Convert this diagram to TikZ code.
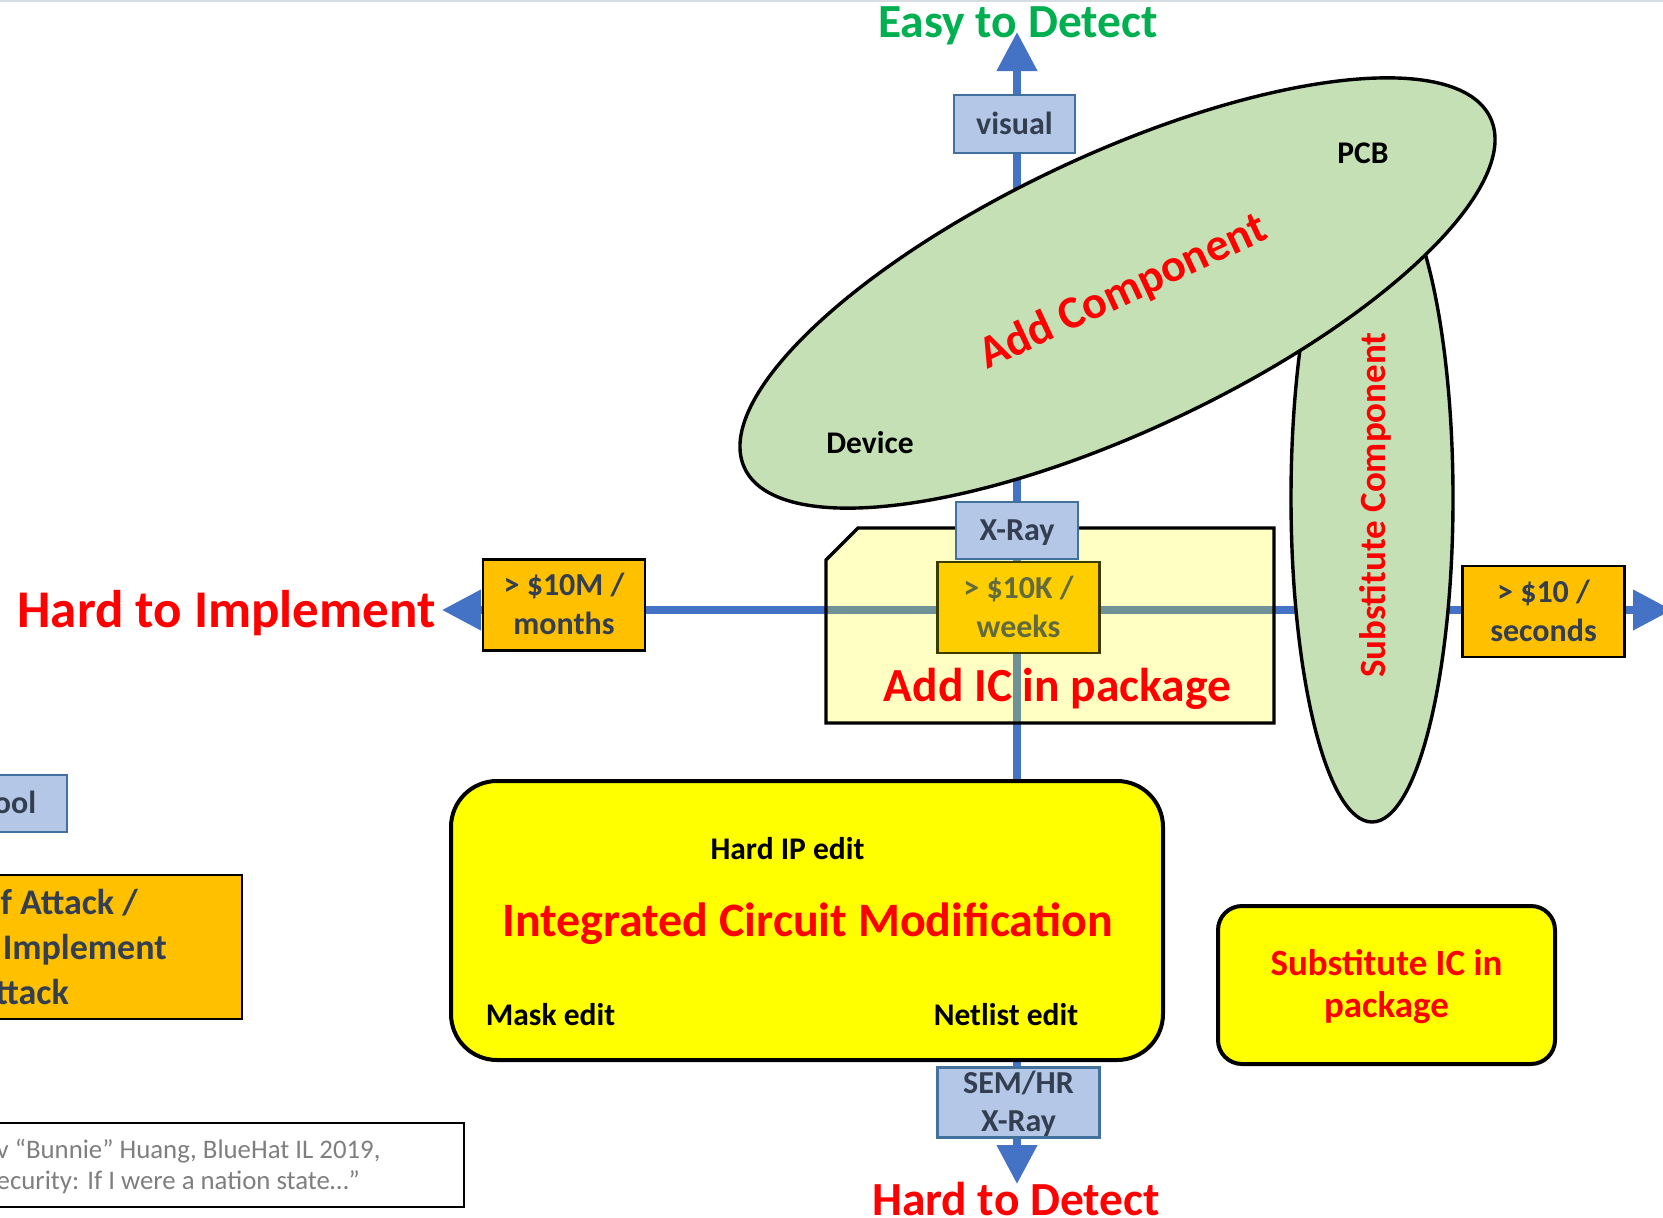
\documentclass[tikz,border=0pt]{standalone}
\usepackage{fontspec}
\setmainfont{Carlito}
\usetikzlibrary{arrows.meta,shapes.geometric}
\definecolor{axisblue}{HTML}{4472C4}
\definecolor{boxblue}{HTML}{B4C7E7}
\definecolor{boxblueline}{HTML}{41719C}
\definecolor{costorange}{HTML}{FFC000}
\definecolor{slate}{HTML}{333F50}
\definecolor{ellgreen}{HTML}{C5E0B4}
\definecolor{easygreen}{HTML}{00B050}
\definecolor{citegray}{HTML}{7F7F7F}
\definecolor{toplinecol}{HTML}{D6DCE4}
\definecolor{icyellow}{HTML}{FFFF00}
\newcommand{\twoline}[2]{\vbox{\hbox to 0pt{\hss #1\hss}\hbox to 0pt{\hss #2\hss}}}
\tikzset{
  axisarrow/.style={draw=axisblue, line width=7.5pt, -{Triangle[length=39pt,width=39pt]}},
  bluebox/.style={rectangle, draw=boxblueline, line width=2.2pt, fill=boxblue, text=slate,
    font=\fontsize{32}{38}\selectfont\bfseries, inner sep=0pt,
    minimum width=122pt, minimum height=57pt, text height=20.2pt, text depth=0pt},
  costbox/.style={rectangle, draw=black, line width=2.4pt, fill=costorange, text=slate,
    font=\fontsize{32}{39}\selectfont\bfseries, inner sep=0pt,
    minimum width=162pt, minimum height=91pt, text height=59.2pt, text depth=0pt},
  redtitle/.style={text=red, inner sep=0pt, anchor=base},
  lab/.style={text=black, font=\fontsize{31.5}{38}\selectfont\bfseries, inner sep=0pt, anchor=base},
  greenell/.style={ellipse, draw=black, line width=3.4pt, fill=ellgreen, inner sep=0pt},
  yellowbox/.style={rectangle, draw=black, line width=4pt, fill=icyellow, inner sep=0pt},
  slatetext/.style={text=slate, font=\fontsize{36}{45}\selectfont\bfseries, inner sep=0pt},
  citetext/.style={text=citegray, font=\fontsize{26.8}{32}\selectfont, inner sep=0pt, anchor=base west},
}
\begin{document}
\begin{tikzpicture}[x=1pt,y=-1pt]
\path[use as bounding box] (0,0) rectangle (1663,1218);
\clip (0,0) rectangle (1663,1218);
\fill[white] (0,0) rectangle (1663,1218);
\draw[draw=toplinecol, line width=2pt] (0,1) -- (1663,1);

% axes
\coordinate (ctr) at (1017,610);
\coordinate (upEnd) at (1017,32);
\coordinate (downEnd) at (1017,1184);
\coordinate (leftEnd) at (442,610);
\coordinate (rightEnd) at (1672,610);
\draw[axisarrow] (ctr) -- (upEnd);
\draw[axisarrow] (ctr) -- (downEnd);
\draw[axisarrow] (ctr) -- (leftEnd);
\draw[axisarrow] (ctr) -- (rightEnd);

% axis titles
\node[text=easygreen, font=\fontsize{47.5}{56}\selectfont\bfseries, inner sep=0pt, anchor=base] (easy) at (1018,37) {Easy to Detect};
\node[redtitle, font=\fontsize{47.5}{56}\selectfont\bfseries] (hardDetect) at (1016,1215) {Hard to Detect};
\node[redtitle, font=\fontsize{53}{62}\selectfont\bfseries] (hardImpl) at (226.5,627) {Hard to Implement};

% substitute component ellipse
\node[greenell, minimum width=162pt, minimum height=648pt] (subcomp) at (1372,498) {};
\node[redtitle, rotate=90, font=\fontsize{37}{44}\selectfont\bfseries] (subcomptxt) at (1385,505) {Substitute Component};

% add component ellipse
\node[greenell, rotate=25.16, minimum width=824pt, minimum height=276pt] (addcomp) at (1117.5,293) {};
\node[redtitle, rotate=25, font=\fontsize{46}{54}\selectfont\bfseries] (addcomptxt) at (1128.5,304) {Add Component};
\node[lab] (pcb) at (1363,163) {PCB};
\node[lab] (device) at (870,453) {Device};

% add IC in package (translucent)
\node[costbox] (c10k) at (1018.5,607.5) {\twoline{> \$10K /}{weeks}};
\path[fill=icyellow, fill opacity=0.23, draw=black, line width=3.4pt]
  (826,560) -- (858,528) -- (1274,528) -- (1274,723) -- (826,723) -- cycle;
\node[redtitle, font=\fontsize{47.5}{56}\selectfont\bfseries] (addictxt) at (1057.5,701) {Add IC in package};
\node[bluebox] (xray) at (1017,530.5) {X-Ray};

% other cost boxes
\node[costbox] (c10m) at (564,605) {\twoline{> \$10M /}{months}};
\node[costbox] (c10) at (1543.5,611.5) {\twoline{> \$10 /}{seconds}};

% detection boxes
\node[bluebox, minimum width=121pt, minimum height=58pt] (visual) at (1014.5,124) {visual};
\node[bluebox, font=\fontsize{32}{38}\selectfont\bfseries, minimum width=162pt, minimum height=70pt, text height=58.2pt] (sem) at (1018.5,1102.5) {\twoline{SEM/HR}{X-Ray}};

% integrated circuit modification
\node[yellowbox, rounded corners=46pt, minimum width=712pt, minimum height=279pt] (icmod) at (807,920.5) {};
\node[redtitle, font=\fontsize{48}{56}\selectfont\bfseries] (icmodtxt) at (807.5,936) {Integrated Circuit Modification};
\node[lab] (hardip) at (787.5,859) {Hard IP edit};
\node[lab] (mask) at (550.5,1025) {Mask edit};
\node[lab] (netlist) at (1006,1025) {Netlist edit};

% substitute IC in package
\node[yellowbox, rounded corners=24pt, minimum width=337pt, minimum height=158pt, text=red,
  font=\fontsize{37}{42}\selectfont\bfseries, text height=65.4pt, text depth=0pt] (subic) at (1386.5,985)
  {\twoline{Substitute IC in}{package}};

% left cut-off legend boxes
\node[bluebox, minimum width=104pt, minimum height=57pt] (toolbox) at (15,803.5) {ool};
\node[rectangle, draw=black, line width=2.4pt, fill=costorange, minimum width=442pt, minimum height=144pt, inner sep=0pt] (legend) at (21,947) {};
\node[slatetext, anchor=base east] (leg1) at (138,914) {f Attack /};
\node[slatetext, anchor=base east] (leg2) at (167,959) {Implement};
\node[slatetext, anchor=base east] (leg3) at (69,1004) {ttack};

% citation
\node[rectangle, draw=black, line width=2pt, fill=white, minimum width=484pt, minimum height=84pt, inner sep=0pt] (cite) at (222,1165) {};
\node[citetext] (cite1) at (-3.5,1158) {v “Bunnie” Huang, BlueHat IL 2019,};
\node[citetext] (cite2) at (-3.5,1189) {ecurity: If I were a nation state…”};
\end{tikzpicture}
\end{document}
